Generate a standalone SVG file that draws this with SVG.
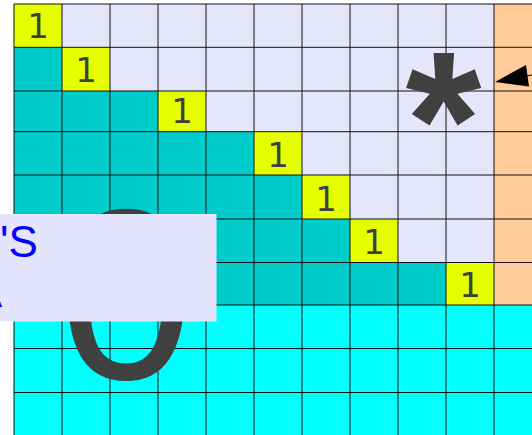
<svg xmlns="http://www.w3.org/2000/svg" width="532" height="435" viewBox="0 0 532 435">
<style>
.one{font-family:"DejaVu Sans",sans-serif;font-size:34px;fill:#404040;text-anchor:middle}
.ycell{fill:#E6FF00}
.big{font-family:"Liberation Sans",Arial,sans-serif;fill:#404040;text-anchor:middle}
.lbl{font-family:"Liberation Sans",Arial,sans-serif;font-size:44px;fill:#0000FF}
</style>
<rect width="532" height="435" fill="#FFFFFF"/>
<g id="background">
<rect x="14" y="4" width="480" height="301" fill="#E6E6FA"/>
<rect x="494" y="4" width="38" height="301" fill="#FFCC99"/>
<rect x="14" y="305" width="518" height="130" fill="#00FFFF"/>
<polygon points="14,47.3 62,47.3 62,91 158,91 158,131.7 254,131.7 254,175 302,175 302,219 350,219 350,262.5 446,262.5 446,305 14,305" fill="#00CCCC"/>
</g>
<g id="cell-0"><rect class="ycell" x="14" y="4" width="48" height="43.3"/><text class="one" x="38" y="38">1</text></g>
<g id="cell-1"><rect class="ycell" x="62" y="47.3" width="48" height="43.7"/><text class="one" x="86" y="82">1</text></g>
<g id="cell-2"><rect class="ycell" x="158" y="91" width="48" height="40.7"/><text class="one" x="182" y="123">1</text></g>
<g id="cell-3"><rect class="ycell" x="254" y="131.7" width="48" height="43.3"/><text class="one" x="278" y="166.5">1</text></g>
<g id="cell-4"><rect class="ycell" x="302" y="175" width="48" height="44"/><text class="one" x="326" y="210.5">1</text></g>
<g id="cell-5"><rect class="ycell" x="350" y="219" width="48" height="43.5"/><text class="one" x="374" y="253.5">1</text></g>
<g id="cell-6"><rect class="ycell" x="446" y="262.5" width="48" height="42.5"/><text class="one" x="470" y="296.5">1</text></g>
<g id="grid" stroke="#111" stroke-width="1" fill="none">
<path d="M14,4V435M62,4V435M110,4V435M158,4V435M206,4V435M254,4V435M302,4V435M350,4V435M398,4V435M446,4V435M494,4V435"/>
<path d="M14,4H532M14,47.3H532M14,91H532M14,131.7H532M14,175H532M14,219H532M14,262.5H532M14,305H532M14,348.5H532M14,392.5H532"/>
</g>
<g id="zero"><text class="big" x="126" y="379" font-size="243">0</text></g>
<g id="star"><text class="big" x="443.5" y="186.5" font-size="195" font-weight="bold">*</text></g>
<g id="label">
<rect x="-10" y="214" width="226.5" height="107.5" fill="#E4E4FC"/>
<text class="lbl" x="0" y="257">'S</text>
<text class="lbl" x="2" y="307" text-anchor="end">A</text>
</g>
<g id="connectors">
<line x1="560" y1="70" x2="526" y2="76" stroke="#000" stroke-width="1"/>
<polygon points="495,82 526,65 529,86.5" fill="#000"/>
</g>
</svg>
